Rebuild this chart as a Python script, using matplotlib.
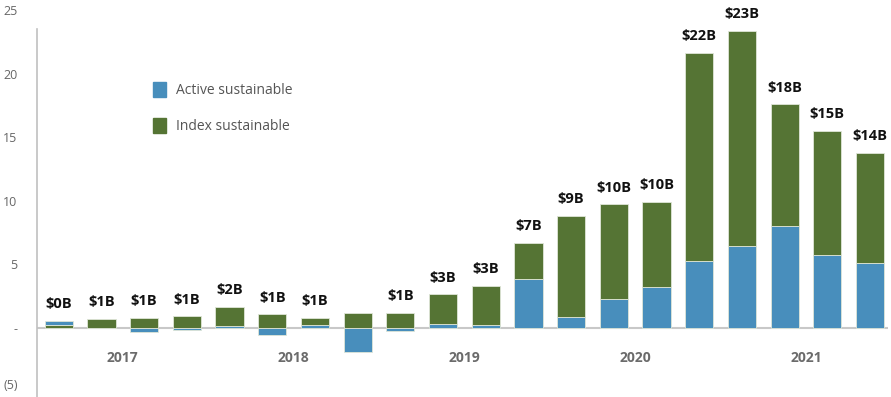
import matplotlib
matplotlib.use("Agg")
import matplotlib.pyplot as plt
from matplotlib.patches import Patch
import numpy as np

plt.rcParams['font.family'] = ['Open Sans', 'DejaVu Sans']

years = ["2017", "2018", "2019", "2020", "2021"]
active = [0.31, 0.0, -0.31, -0.16, 0.18, -0.58, 0.26, -1.91, -0.24, 0.33,
          0.24, 3.85, 0.86, 2.28, 3.22, 5.26, 6.49, 8.01, 5.71, 5.10]
index = [0.26, 0.73, 0.81, 0.92, 1.50, 1.07, 0.55, 1.18, 1.18, 2.32,
         3.08, 2.83, 7.94, 7.46, 6.73, 16.41, 16.91, 9.59, 9.79, 8.70]
labels = ["$0B", "$1B", "$1B", "$1B", "$2B", "$1B", "$1B", "", "$1B", "$3B",
          "$3B", "$7B", "$9B", "$10B", "$10B", "$22B", "$23B", "$18B", "$15B", "$14B"]
index_first = [True] + [False] * 19

blue = "#488ebc"
green = "#557434"

fig = plt.figure(figsize=(8.91, 3.97), dpi=100)
ax = fig.add_axes([37 / 891, 0, (888 - 37) / 891, 1])

x = np.arange(len(active))
a = np.array(active)
i = np.array(index)
w = 0.66
ec = "#dfe6d8"
for k in range(len(x)):
    if index_first[k]:
        ax.bar(x[k], i[k], w, bottom=0, color=green, edgecolor=ec, linewidth=0.6)
        ax.bar(x[k], a[k], w, bottom=i[k], color=blue, edgecolor=ec, linewidth=0.6)
    else:
        if a[k] >= 0:
            ax.bar(x[k], a[k], w, bottom=0, color=blue, edgecolor=ec, linewidth=0.6)
            ax.bar(x[k], i[k], w, bottom=a[k], color=green, edgecolor=ec, linewidth=0.6)
        else:
            ax.bar(x[k], a[k], w, bottom=0, color=blue, edgecolor=ec, linewidth=0.6)
            ax.bar(x[k], i[k], w, bottom=0, color=green, edgecolor=ec, linewidth=0.6)

tops = np.maximum(a, 0) + i
for k in range(len(x)):
    if labels[k]:
        ax.annotate(labels[k], (x[k], tops[k]), xytext=(0, 7), textcoords="offset points",
                    ha="center", va="bottom", fontsize=10.5, fontweight="bold", color="#111111")

ax.set_xlim(-0.51, 19.42)
ax.set_ylim(-5.42, 25.8)
ax.axhline(0, color="#c8c8c8", lw=1.5, zorder=0.5)

ax.set_yticks([25, 20, 15, 10, 5, 0, -5])
ax.set_yticklabels(["25", "20", "15", "10", "5", "-", "(5)"], color="#666666", fontsize=9)
ax.get_yticklabels()[-1].set_va("bottom")
ax.tick_params(axis="y", length=0, pad=14)
ax.set_xticks([])

for s in ["top", "right", "bottom"]:
    ax.spines[s].set_visible(False)
ax.spines["left"].set_color("#c0c0c0")
ax.spines["left"].set_linewidth(1.2)
ax.spines["left"].set_bounds(-5.42, 23.5)

for n, yr in enumerate(years):
    ax.text(4 * n + 1.5, -2.36, yr, ha="center", va="center", fontsize=10,
            fontweight="bold", color="#6b6b6b")

handles = [Patch(color=blue, label="Active sustainable"),
           Patch(color=green, label="Index sustainable")]
fig.legend(handles=handles, loc="upper left", bbox_to_anchor=(140 / 891, 1 - 70 / 397),
           frameon=False, fontsize=10, handlelength=1.0, handleheight=1.2,
           labelspacing=1.45, handletextpad=0.7, labelcolor="#555555")

fig.savefig("out.png", dpi=100)
